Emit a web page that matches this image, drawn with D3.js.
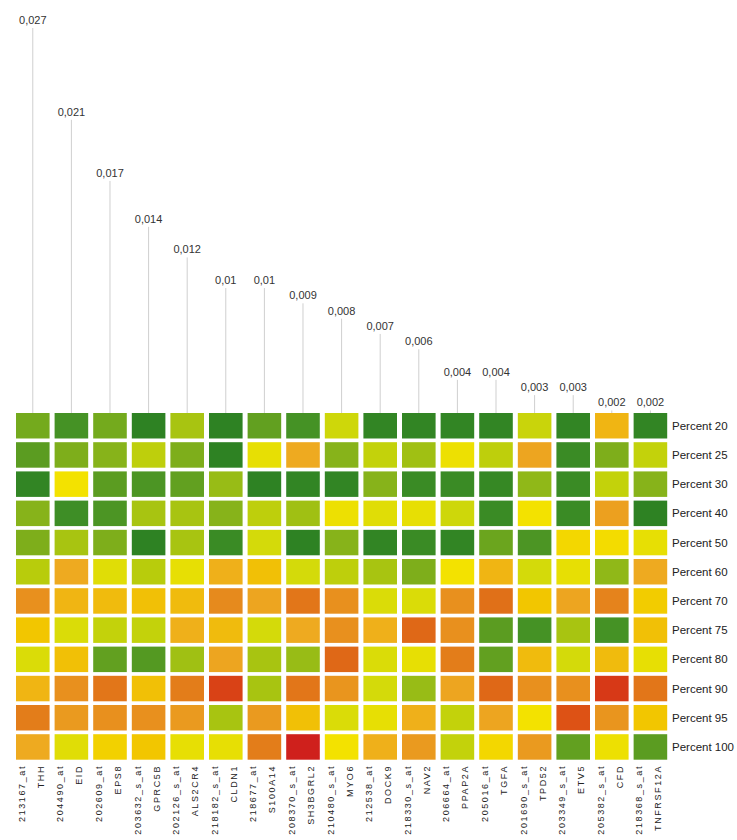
<!DOCTYPE html>
<html>
<head>
<meta charset="utf-8">
<script src="https://cdn.jsdelivr.net/npm/d3@7"></script>
<style>
  html, body { margin: 0; padding: 0; background: #ffffff; }
  svg { display: block; }
  text { font-family: "Liberation Sans", Arial, sans-serif; fill: #222; }
</style>
</head>
<body>
<svg id="chart" width="737" height="840"></svg>
<script>
// Probe sets (columns), ordered by score
const probes = ["213167_at", "204490_at", "202609_at", "203632_s_at", "202126_s_at", "218182_s_at",
  "218677_at", "208370_s_at", "210480_s_at", "212538_at", "218330_s_at", "206664_at",
  "205016_at", "201690_s_at", "203349_s_at", "205382_s_at", "218368_s_at"];
const genes = ["THH", "EID", "EPS8", "GPRC5B", "ALS2CR4", "CLDN1", "S100A14", "SH3BGRL2", "MYO6",
  "DOCK9", "NAV2", "PPAP2A", "TGFA", "TPD52", "ETV5", "CFD", "TNFRSF12A"];
const scores = [0.027, 0.021, 0.017, 0.014, 0.012, 0.01, 0.01, 0.009, 0.008, 0.007, 0.006,
  0.004, 0.004, 0.003, 0.003, 0.002, 0.002];

// Rows
const groups = ["Percent 20", "Percent 25", "Percent 30", "Percent 40", "Percent 50", "Percent 60",
  "Percent 70", "Percent 75", "Percent 80", "Percent 90", "Percent 95", "Percent 100"];

// Standardised expression, one row per group, one value per probe set
const p20  = [1.8, 2.4, 1.8, 2.9, 1.2, 2.9, 2.0, 2.4, 0.6, 2.8, 2.8, 2.8, 2.8, 0.7, 2.8, -0.8, 2.8];
const p25  = [2.1, 1.7, 1.6, 0.9, 1.7, 2.9, 0.2, -1.0, 1.6, 0.8, 1.3, 0.1, 0.9, -1.1, 2.6, 1.7, 0.8];
const p30  = [2.8, 0.0, 2.1, 2.3, 2.0, 1.4, 2.9, 2.8, 2.8, 1.6, 2.6, 2.6, 2.7, 1.5, 2.6, 0.8, 1.6];
const p40  = [1.6, 2.5, 2.3, 1.2, 1.2, 1.6, 0.9, 1.3, 0.1, 0.3, 0.2, 0.6, 2.6, 0.0, 2.6, -1.2, 2.9];
const p50  = [1.7, 1.2, 1.7, 2.9, 1.2, 2.6, 0.5, 2.9, 1.6, 2.8, 2.6, 2.8, 1.9, 2.3, -0.2, -0.1, 0.2];
const p60  = [1.0, -1.0, 0.3, 1.0, 0.2, -0.9, -0.6, 0.5, 0.9, 1.2, 1.7, 0.0, -0.8, 0.5, 0.2, 1.5, -1.0];
const p70  = [-1.5, -0.8, -0.7, -0.6, -0.7, -1.6, -1.1, -1.9, -1.5, 0.4, 0.4, -1.5, -2.0, -0.5, -1.1, -1.7, -0.4];
const p75  = [-0.5, 0.4, 0.8, 0.8, -0.9, -0.7, 0.5, -1.0, -1.5, -0.9, -2.1, -1.5, 2.1, 2.4, 1.2, 2.4, -0.6];
const p80  = [0.4, -0.6, 2.0, 2.2, 1.3, -1.1, 1.2, 1.4, -2.1, 0.4, 0.2, -1.8, 2.0, -0.7, 0.5, -0.7, 0.2];
const p90  = [-0.8, -1.5, -1.9, -0.6, -1.8, -2.6, 1.2, -1.9, -1.4, 0.5, 1.4, -1.1, -2.1, -1.5, -1.5, -2.7, -1.9];
const p95  = [-1.8, -1.3, -1.5, -1.5, -1.3, 1.2, -1.3, -0.6, 0.4, 0.2, -0.9, 0.8, -1.1, 0.0, -2.4, -1.4, -0.5];
const p100 = [-1.0, 0.3, -0.3, -0.5, 0.2, 0.2, -1.8, -3.0, 0.0, -0.9, -1.3, 0.8, -0.2, -1.3, 2.0, 0.1, 2.1];
const matrix = [p20, p25, p30, p40, p50, p60, p70, p75, p80, p90, p95, p100];

// Colour ramp: red (low) through yellow to dark green (high)
const colorStops = [-3, -2.5, -2, -1.5, -1, -0.5, 0, 0.5, 1, 1.5, 2, 2.5, 3];
const colorRange = ["#cf201c", "#dc4a14", "#e07018", "#e8901e", "#eeaa20", "#f2c600", "#f3e200",
  "#d4da0a", "#b8cc0c", "#90b818", "#62a020", "#3e8e26", "#2a7f22"];
const color = d3.scaleLinear().domain(colorStops).range(colorRange).clamp(true);

const svg = d3.select("#chart");

const x = d3.scaleBand().domain(probes).range([16, 667.2]).paddingInner(0.13).paddingOuter(0);
const y = d3.scaleBand().domain(groups).range([413, 759.7]).paddingInner(0.127).paddingOuter(0);
const heatTop = 413;

// Score stems above each column
const yScore = d3.scaleLinear().domain([0, d3.max(scores)]).range([433, 20]);
const comma = d3.formatLocale({ decimal: ",", thousands: ".", grouping: [3], currency: ["", ""] }).format("~g");

const stems = svg.append("g").attr("class", "stems");
stems.selectAll("line")
  .data(probes)
  .join("line")
  .attr("x1", d => x(d) + x.bandwidth() / 2)
  .attr("x2", d => x(d) + x.bandwidth() / 2)
  .attr("y1", (d, i) => yScore(scores[i]) + 8)
  .attr("y2", heatTop)
  .attr("stroke", "#cfcfcf")
  .attr("stroke-width", 1);

stems.selectAll("text")
  .data(probes)
  .join("text")
  .attr("x", d => x(d) + x.bandwidth() / 2)
  .attr("y", (d, i) => yScore(scores[i]) + 4)
  .attr("text-anchor", "middle")
  .style("font-size", "11px")
  .style("fill", "#333")
  .text((d, i) => comma(scores[i]));

// Heatmap cells
const cells = [];
matrix.forEach((row, r) => row.forEach((v, c) => cells.push({ group: groups[r], probe: probes[c], value: v })));

svg.append("g").attr("class", "cells")
  .selectAll("rect")
  .data(cells)
  .join("rect")
  .attr("x", d => x(d.probe))
  .attr("y", d => y(d.group))
  .attr("width", x.bandwidth())
  .attr("height", y.bandwidth())
  .attr("fill", d => color(d.value));

// Row labels on the right
svg.append("g").attr("class", "row-labels")
  .selectAll("text")
  .data(groups)
  .join("text")
  .attr("x", 672)
  .attr("y", d => y(d) + y.bandwidth() / 2 + 4)
  .style("font-size", "11.5px")
  .text(d => d);

// Column labels: probe set id and gene symbol, rotated
const colLabels = svg.append("g").attr("class", "col-labels")
  .selectAll("g")
  .data(probes)
  .join("g")
  .attr("transform", d => `translate(${x(d) + x.bandwidth() / 2},765) rotate(-90)`);

colLabels.append("text")
  .attr("x", 0)
  .attr("y", -8)
  .attr("text-anchor", "end")
  .style("font-size", "9px")
  .style("letter-spacing", "1.6px")
  .text(d => d);

colLabels.append("text")
  .attr("x", 0)
  .attr("y", 11)
  .attr("text-anchor", "end")
  .style("font-size", "9px")
  .style("letter-spacing", "1.6px")
  .text((d, i) => genes[i]);
</script>
</body>
</html>
